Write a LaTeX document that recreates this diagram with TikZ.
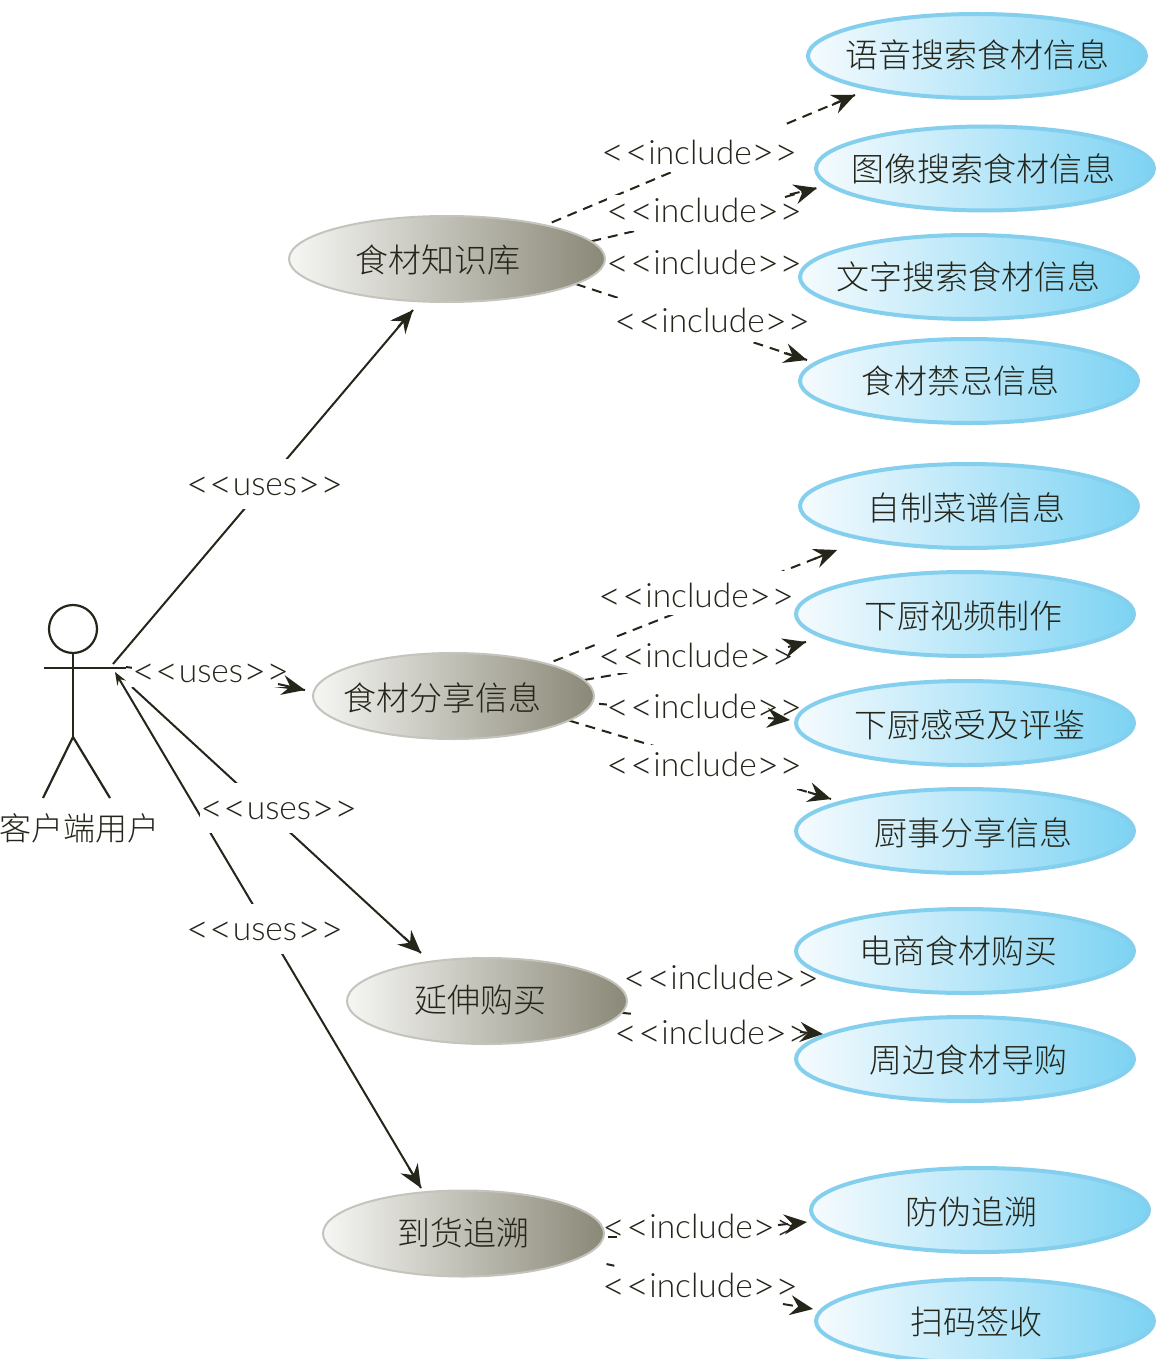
\documentclass[tikz,border=0pt]{standalone}
\usepackage{fontspec}
\setmainfont{Lato Light}
\newfontfamily\cjk{Noto Sans CJK SC Light}
\usetikzlibrary{shapes.geometric,arrows.meta,calc}
\definecolor{ink}{HTML}{25251A}
\definecolor{skyedge}{HTML}{84CFEE}
\definecolor{skyend}{HTML}{7DD3F3}
\definecolor{skystart}{HTML}{F6FBFE}
\definecolor{stoneedge}{HTML}{C4C4BC}
\definecolor{stoneend}{HTML}{8A8877}
\definecolor{stonestart}{HTML}{F6F6F4}
\newcommand\bigangle[1]{\raisebox{-2.5pt}{\fontsize{40}{36}\selectfont #1}}
\newcommand\lbl[2][0]{\raisebox{\dimexpr-12.5pt-#1pt\relax}[0pt][0pt]{\bigangle{<}\bigangle{<}#2\bigangle{>}\bigangle{>}}}
\tikzset{
  x=1pt,y=-1pt,
  sky/.style={ellipse,draw=skyedge,line width=4pt,left color=skystart,right color=skyend,minimum width=338pt,minimum height=84pt,inner sep=0pt},
  stone/.style={ellipse,draw=stoneedge,line width=2pt,left color=stonestart,right color=stoneend,minimum height=86pt,inner sep=0pt},
  ghost/.style={ellipse,minimum height=86pt,inner sep=0pt},
  captext/.style={font=\cjk\fontsize{33}{36}\selectfont,text=ink,inner sep=0pt},
  lab/.style={font=\fontsize{33.5}{36}\selectfont,text=ink,fill=white,inner sep=0pt,minimum height=#1},
  usesline/.style={draw=ink,line width=2pt},
  incline/.style={draw=ink,line width=2pt,dash pattern=on 10pt off 7pt},
  tiphead/.style={-{Stealth[length=23pt,width=20pt,inset=8pt]}},
  limb/.style={draw=ink,line width=2.2pt},
}
\begin{document}
\begin{tikzpicture}
\useasboundingbox (0,0) rectangle (1158,1359);
% ---- named points
\coordinate (hand) at (113,664);
\coordinate (handb) at (126,667);
\coordinate (handc) at (132,687);
\coordinate (handd) at (115,672);
\foreach \n/\x/\y in {
  ua/413/310, ub/305/690, uc/421/953, ud/421/1188,
  ta/398/327, tb/278/684, tc/404/937, td/409/1168,
  ia/855/95, ib/817/188, id/807/360, ie/837/550, if/806/642, ig/790/720, ih/831/799, ij/823/1034, ik/807/1222, il/813/1309,
  ja/832/105, jb/785/197, jd/784/353, je/814/559, jf/788/647, jg/768/718, jh/808/792, jj/800/1032, jk/778/1225, jl/783/1304,
  ic/798/265, ii/798/965}
  {\coordinate (\n) at (\x,\y);}
% ---- invisible ellipses that the connectors start from
\node[ghost,minimum width=316pt] (k1) at (447,259) {};
\node[ghost,minimum width=281pt] (k2) at (453.5,696) {};
\node[ghost,minimum width=280pt] (k3) at (487,1001) {};
\node[ghost,minimum width=281pt] (k4) at (463.5,1233.5) {};
% ---- connectors
\draw[usesline] (hand) -- (ua);
\draw[usesline] (handb) -- (ub);
\draw[usesline] (handc) -- (uc);
\draw[usesline,{Stealth[length=13pt,width=10pt,inset=5pt]}-] (handd) -- (ud);
\draw[incline,dash phase=10pt] (k1.19.4) -- (ia);
\draw[incline] (k1.7.7) -- (ib);
\draw[incline] (k1.east) -- (ic);
\draw[incline] (k1.-11.5) -- (id);
\draw[incline,dash phase=10pt] (k2.19.5) -- (ie);
\draw[incline] (k2.7.1) -- (if);
\draw[incline,dash phase=10pt] (k2.-3) -- (ig);
\draw[incline] (k2.-12.8) -- (ih);
\draw[incline] (k3.east) -- (ii);
\draw[draw=ink,line width=2pt,dash pattern=on 9pt off 400pt] (k3.-5.8) -- (ij);
\draw[incline] (k4.-1.4) -- (ik);
\draw[draw=ink,line width=2pt,dash pattern=on 0pt off 28pt on 8pt off 400pt] (k4.-12.7) -- (il);
% ---- labels
\node[lab=50pt] (la) at (265,484) {\lbl[-1]{uses}};
\node[lab=32pt] (lb) at (211,671) {\lbl[-1]{uses}};
\node[lab=50pt] (lc) at (279,808) {\lbl[-1]{uses}};
\node[lab=50pt] (ld) at (265,929) {\lbl[-1]{uses}};
\node[lab=47pt] (ma) at (700,149) {\lbl[3]{include}};
\node[lab=36pt] (mb) at (705,213) {\lbl[-3]{include}};
\node[lab=36pt,minimum width=200pt] (mc) at (705,262) {\lbl{include}};
\node[lab=44pt] (md) at (713,320) {\lbl{include}};
\node[lab=44pt] (me) at (697,593) {\lbl[2]{include}};
\node[lab=36pt] (mf) at (697,655) {\lbl{include}};
\node[lab=36pt] (mg) at (705,706) {\lbl{include}};
\node[lab=44pt] (mh) at (705,767) {\lbl[-3]{include}};
\node[lab=50pt,minimum width=200pt] (mi) at (722,977) {\lbl{include}};
\node[lab=30pt] (mj) at (713,1032) {\lbl{include}};
\node[lab=36pt] (mk) at (701,1226) {\lbl{include}};
\node[lab=34pt] (ml) at (701,1285) {\lbl{include}};
% ---- ellipses
\node[stone,minimum width=316pt] (k1s) at (k1) {};
\node[stone,minimum width=281pt] (k2s) at (k2) {};
\node[stone,minimum width=280pt] (k3s) at (k3) {};
\node[stone,minimum width=281pt] (k4s) at (k4) {};
\node[sky] (t1) at (977,56) {};
\node[sky] (t2) at (985,168.5) {};
\node[sky] (t3) at (969,277) {};
\node[sky] (t4) at (969,381) {};
\node[sky] (t5) at (969,506) {};
\node[sky] (t6) at (965,614) {};
\node[sky] (t7) at (965,723) {};
\node[sky] (t8) at (965,831) {};
\node[sky] (t9) at (965,951) {};
\node[sky] (t10) at (965,1059) {};
\node[sky] (t11) at (980,1210) {};
\node[sky] (t12) at (985,1321) {};
% ---- ellipse texts
\node[captext] (c1) at (438,260) {食材知识库};
\node[captext] (c2) at (442,698) {食材分享信息};
\node[captext] (c3) at (480,1000) {延伸购买};
\node[captext] (c4) at (463,1233) {到货追溯};
\node[captext] (d1) at (977,55) {语音搜索食材信息};
\node[captext] (d2) at (983,169) {图像搜索食材信息};
\node[captext] (d3) at (968,277) {文字搜索食材信息};
\node[captext] (d4) at (960,381) {食材禁忌信息};
\node[captext] (d5) at (966,508) {自制菜谱信息};
\node[captext] (d6) at (963,616) {下厨视频制作};
\node[captext] (d7) at (970,725) {下厨感受及评鉴};
\node[captext] (d8) at (973,833) {厨事分享信息};
\node[captext] (d9) at (958,951) {电商食材购买};
\node[captext] (d10) at (968,1060) {周边食材导购};
\node[captext] (d11) at (971,1212) {防伪追溯};
\node[captext] (d12) at (976,1322) {扫码签收};
% ---- arrow ends, which lie over the labels
\draw[usesline,tiphead] (ta) -- (ua);
\draw[usesline,tiphead] (tb) -- (ub);
\draw[usesline,tiphead] (tc) -- (uc);
\draw[usesline,tiphead] (td) -- (ud);
\foreach \j/\i in {ja/ia,jb/ib,jd/id,je/ie,jf/if,jg/ig,jh/ih,jj/ij,jk/ik,jl/il}
  \draw[incline,tiphead] (\j) -- (\i);
\coordinate (gk1) at (617,1237);
\coordinate (gk0) at (608,1237);
\draw[draw=ink,line width=2pt] (gk0) -- (gk1);
% ---- actor
\node[circle,draw=ink,line width=2.2pt,minimum size=48pt,inner sep=0pt] (face) at (73,629) {};
\coordinate (hip) at (73,737);
\coordinate (armL) at (44,668);
\coordinate (armR) at (126,668);
\coordinate (legL) at (43,798);
\coordinate (legR) at (110,798);
\draw[limb] (face.south) -- (hip);
\draw[limb] (armL) -- (armR);
\draw[limb] (legL) -- (hip) -- (legR);
\node[captext,font=\cjk\fontsize{32}{36}\selectfont] (actor) at (79,828) {客户端用户};
\end{tikzpicture}
\end{document}
